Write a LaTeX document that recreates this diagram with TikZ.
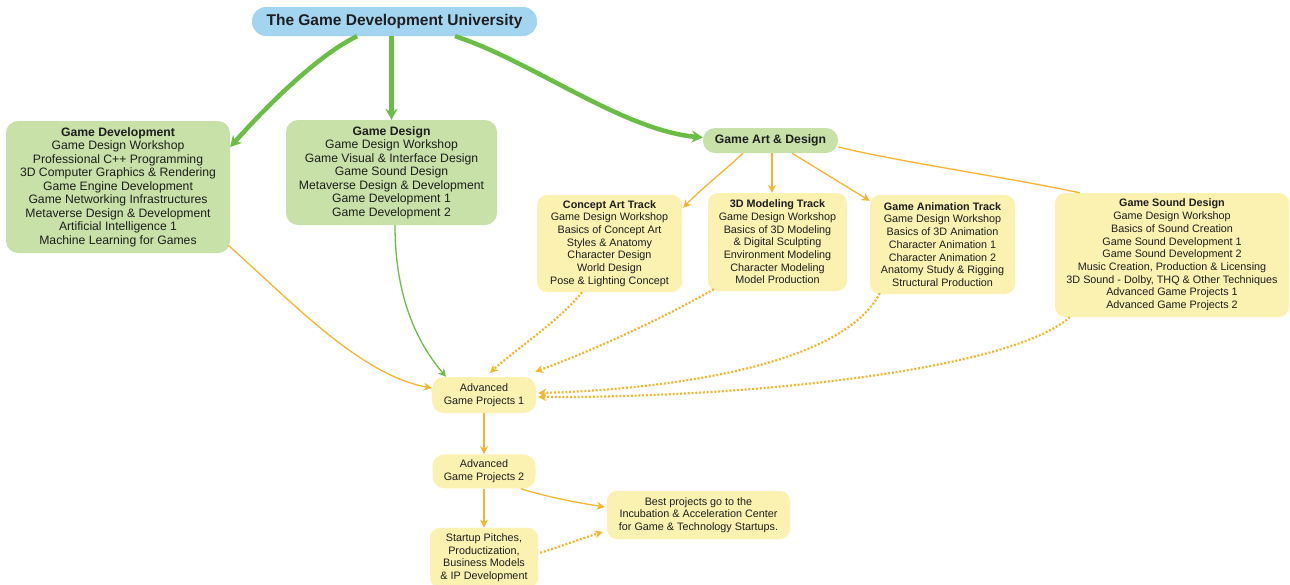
\documentclass[tikz,border=0pt]{standalone}
\usepackage{fontspec}
\setmainfont{Liberation Sans}
\usetikzlibrary{arrows.meta,positioning,calc}

\definecolor{uniblue}{HTML}{A3D5F0}
\definecolor{boxgreen}{HTML}{C8E1A8}
\definecolor{boxyellow}{HTML}{FBF1B1}
\definecolor{linegreen}{HTML}{6BBE45}
\definecolor{lineorange}{HTML}{F6B52E}
\definecolor{txt}{HTML}{1E1E1E}

\tikzset{
  uni/.style={fill=uniblue, text=txt, rounded corners=14pt, inner sep=0pt,
    font=\bfseries\fontsize{15.5}{18}\selectfont},
  dept/.style={fill=boxgreen, text=txt, rounded corners=12pt, inner sep=0pt,
    align=center, font=\fontsize{12.2}{13.5}\selectfont},
  track/.style={fill=boxyellow, text=txt, rounded corners=10pt, inner sep=0pt,
    align=center, font=\fontsize{10.8}{12.7}\selectfont},
  trunk/.style={draw=linegreen, line width=4.5pt, -{Stealth[length=11pt,width=12pt]}},
  twig/.style={draw=linegreen, line width=1.3pt, ->},
  flow/.style={draw=lineorange, line width=1.3pt, ->},
  hint/.style={draw=lineorange, line width=2.2pt, dash pattern=on 2pt off 1.8pt, ->}
}

\begin{document}
\begin{tikzpicture}[x=1pt,y=-1pt,>={Stealth[length=8pt,width=8pt]}]
\useasboundingbox (0,0) rectangle (1290,584);

\node[uni, minimum width=285pt, minimum height=29pt] (top) at (394.5,21.5) {The Game Development University};

\node[dept, minimum width=224pt, minimum height=132pt] (dev) at (118,187)
  {\textbf{Game Development}\\Game Design Workshop\\Professional C++ Programming\\3D Computer Graphics \& Rendering\\Game Engine Development\\Game Networking Infrastructures\\Metaverse Design \& Development\\Artificial Intelligence 1\\Machine Learning for Games};
\node[dept, minimum width=211pt, minimum height=105pt] (des) at (391.5,172.5)
  {\textbf{Game Design}\\Game Design Workshop\\Game Visual \& Interface Design\\Game Sound Design\\Metaverse Design \& Development\\Game Development 1\\Game Development 2};
\node[dept, minimum width=135pt, minimum height=25pt] (art) at (770.5,140.5) {\textbf{Game Art \& Design}};

\node[track, minimum width=145pt, minimum height=97pt] (concept) at (609.5,243.5)
  {\textbf{Concept Art Track}\\Game Design Workshop\\Basics of Concept Art\\Styles \& Anatomy\\Character Design\\World Design\\Pose \& Lighting Concept};
\node[track, minimum width=139pt, minimum height=98pt] (model) at (777.5,242)
  {\textbf{3D Modeling Track}\\Game Design Workshop\\Basics of 3D Modeling\\\& Digital Sculpting\\Environment Modeling\\Character Modeling\\Model Production};
\node[track, minimum width=145pt, minimum height=99pt] (anim) at (942.5,244.5)
  {\textbf{Game Animation Track}\\Game Design Workshop\\Basics of 3D Animation\\Character Animation 1\\Character Animation 2\\Anatomy Study \& Rigging\\Structural Production};
\node[track, minimum width=234pt, minimum height=124pt] (sound) at (1172,255)
  {\textbf{Game Sound Design}\\Game Design Workshop\\Basics of Sound Creation\\Game Sound Development 1\\Game Sound Development 2\\Music Creation, Production \& Licensing\\3D Sound - Dolby, THQ \& Other Techniques\\Advanced Game Projects 1\\Advanced Game Projects 2};

\node[track, rounded corners=12pt, minimum width=104pt, minimum height=36pt] (agp1) at (484,395) {Advanced\\Game Projects 1};
\node[track, rounded corners=12pt, minimum width=103pt, minimum height=34pt, below=41pt of agp1] (agp2) {Advanced\\Game Projects 2};
\node[track, minimum width=108pt, minimum height=60pt, below=39pt of agp2] (pitch) {Startup Pitches,\\Productization,\\Business Models\\\& IP Development};
\node[track, minimum width=183pt, minimum height=48pt] (incub) at (698.5,515) {Best projects go to the\\Incubation \& Acceleration Center\\for Game \& Technology Startups.};

\draw[trunk] ($(top.south)+(-37.5,0)$) .. controls +(-37,18) and +(42,-47) .. ($(dev.east)+(0,-40)$);
\draw[trunk] (top.south -| des.north) -- (des.north);
\draw[trunk] ($(top.south)+(60.5,0)$) .. controls +(75,24) and +(-80,-7) .. ($(art.west)+(0,-3)$);

\draw[flow] ($(dev.south east)+(-2,-8)$) .. controls +(62,55) and +(-72,-13) .. ($(agp1.west)+(0,-7)$);
\draw[twig] ($(des.south)+(3.5,0)$) .. controls +(0,75) and +(-27,-32) .. ($(agp1.north)+(-38,0)$);

\draw[flow] ($(art.south)+(-27.5,0)$) .. controls +(-18,17) and +(17,-18) .. ($(concept.north east)+(1,13)$);
\draw[flow] ($(art.south)+(1.5,0)$) -- ($(model.north)+(-5.5,0)$);
\draw[flow] ($(art.south)+(21.5,0)$) -- ($(anim.north west)+(0,6)$);
\draw[draw=lineorange, line width=1.3pt] ($(art.east)+(0,6.5)$) .. controls +(62,15) and +(-70,-15) .. ($(sound.north west)+(25,0)$);

\draw[hint] ($(concept.south)+(-27.5,0)$) .. controls +(-22,28) and +(25,-23) .. ($(agp1.north)+(6,-4)$);
\draw[hint] ($(model.south west)+(6,-2)$) .. controls +(-54,31) and +(54,-20) .. ($(agp1.north east)+(-1,-5)$);
\draw[hint] ($(anim.south west)+(10,-1)$) .. controls +(-40,77) and +(112,-3) .. ($(agp1.east)+(2,-2)$);
\draw[hint] ($(sound.south west)+(15,0)$) .. controls +(-60,53) and +(210,1) .. ($(agp1.east)+(2,2)$);

\path[flow] (agp1) edge (agp2)
            (agp2) edge (pitch);
\draw[flow] ($(agp2.south east)+(-15,0)$) .. controls +(28,9) and +(-25,-4) .. ($(incub.west)+(-2,-8)$);
\draw[hint] ($(pitch.east)+(2,-5)$) .. controls +(20,-6) and +(-20,6) .. ($(incub.west)+(-4,17)$);
\end{tikzpicture}
\end{document}
